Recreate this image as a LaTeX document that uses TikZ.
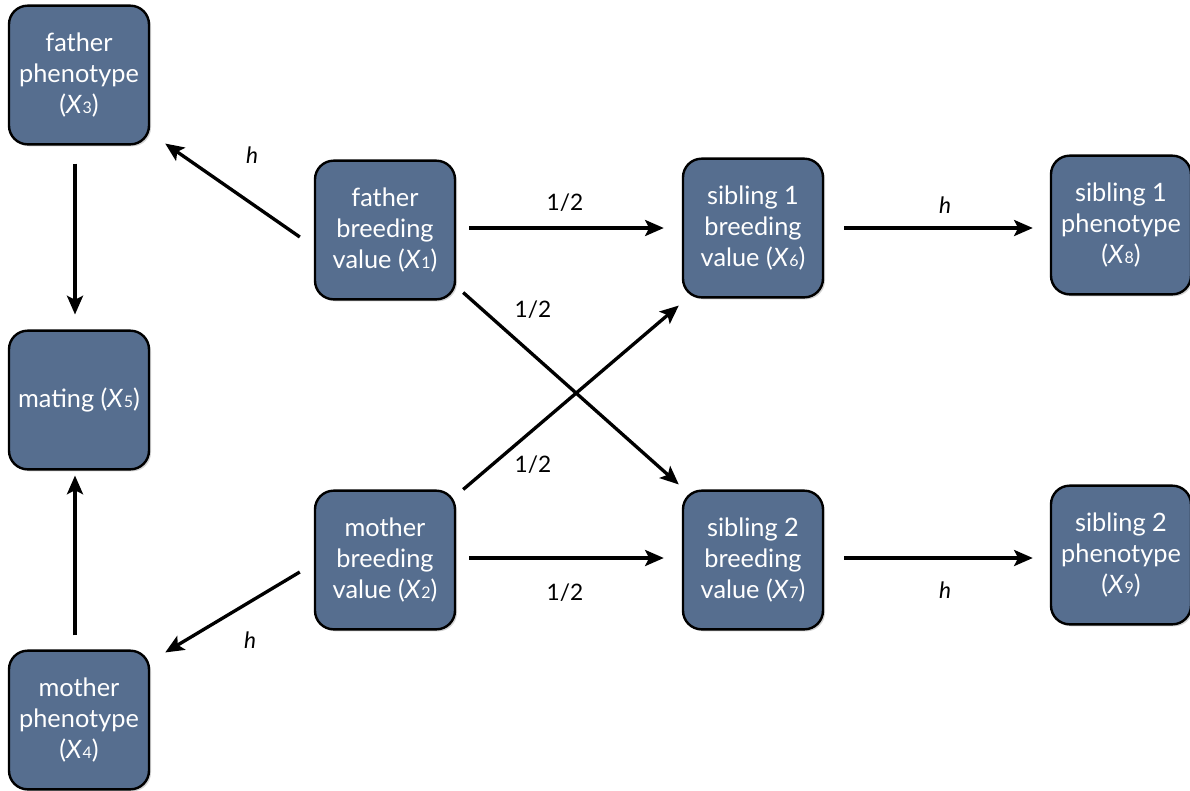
\documentclass[tikz,border=0pt]{standalone}
\usepackage{fontspec}
\setmainfont{Lato}
\usetikzlibrary{arrows.meta,calc,shadows}
\definecolor{boxblue}{HTML}{566E8F}
\newcommand{\Xv}[1]{\textit{X}\kern0.02em{\fontsize{12}{12}\selectfont #1}}
\begin{document}
\begin{tikzpicture}[x=0.75pt,y=-0.75pt,
  box/.style={draw=black,line width=1.8pt,fill=boxblue,rounded corners=14pt,
    minimum width=105pt,minimum height=104pt,text=white,align=center,
    font=\fontsize{19}{23.5}\selectfont,inner sep=1pt,
    drop shadow={shadow xshift=1.5pt,shadow yshift=-1.5pt,opacity=0.35}},
  arr/.style={line width=2.5pt,-{Stealth[length=14pt,width=12pt,inset=3pt]}},
  lbl/.style={font=\fontsize{17}{20}\selectfont}]
\useasboundingbox (0,0) rectangle (1190,790);
\node[box] (fp) at (79,75) {father\\phenotype\\(\Xv{3})};
\node[box] (mt) at (79,400) {mating (\Xv{5})};
\node[box] (mp) at (79,720) {mother\\phenotype\\(\Xv{4})};
\node[box] (fb) at (385,230) {father\\breeding\\value (\Xv{1})};
\node[box] (mb) at (385,560) {mother\\breeding\\value (\Xv{2})};
\node[box] (s1b) at (753,228) {sibling 1\\breeding\\value (\Xv{6})};
\node[box] (s2b) at (753,560) {sibling 2\\breeding\\value (\Xv{7})};
\node[box] (s1p) at (1121,225) {sibling 1\\phenotype\\(\Xv{8})};
\node[box] (s2p) at (1121,555) {sibling 2\\phenotype\\(\Xv{9})};

\draw[arr] ($(fb.west)+(-14,7)$) -- ($(fp.south east)+(15,-2)$);
\draw[arr] ($(fp.south)+(-4,18)$) -- ($(mt.north)+(-4,-15)$);
\draw[arr] ($(mp.north)+(-4,-14)$) -- ($(mt.south)+(-4,5)$);
\draw[arr] ($(mb.west)+(-14,12)$) -- ($(mp.north east)+(15,3)$);
\draw[arr] ($(fb.east)+(13,-2)$) -- ($(s1b.west)+(-18,0)$);
\draw[arr] ($(fb.south east)+(7,-8)$) -- ($(s2b.north west)+(-3,-5)$);
\draw[arr] ($(mb.north east)+(7,0)$) -- ($(s1b.south west)+(-3,7)$);
\draw[arr] ($(mb.east)+(13,-2)$) -- ($(s2b.west)+(-18,-2)$);
\draw[arr] ($(s1b.east)+(20,0)$) -- ($(s1p.west)+(-17,3)$);
\draw[arr] ($(s2b.east)+(20,-2)$) -- ($(s2p.west)+(-17,3)$);

\node[lbl] (l1) at (252,155) {\textit{h}};
\node[lbl] (l2) at (250,640) {\textit{h}};
\node[lbl] (l3) at (565,203) {1/2};
\node[lbl] (l4) at (533,310) {1/2};
\node[lbl] (l5) at (533,465) {1/2};
\node[lbl] (l6) at (565,593) {1/2};
\node[lbl] (l7) at (945,205) {\textit{h}};
\node[lbl] (l8) at (945,590) {\textit{h}};
\end{tikzpicture}
\end{document}
